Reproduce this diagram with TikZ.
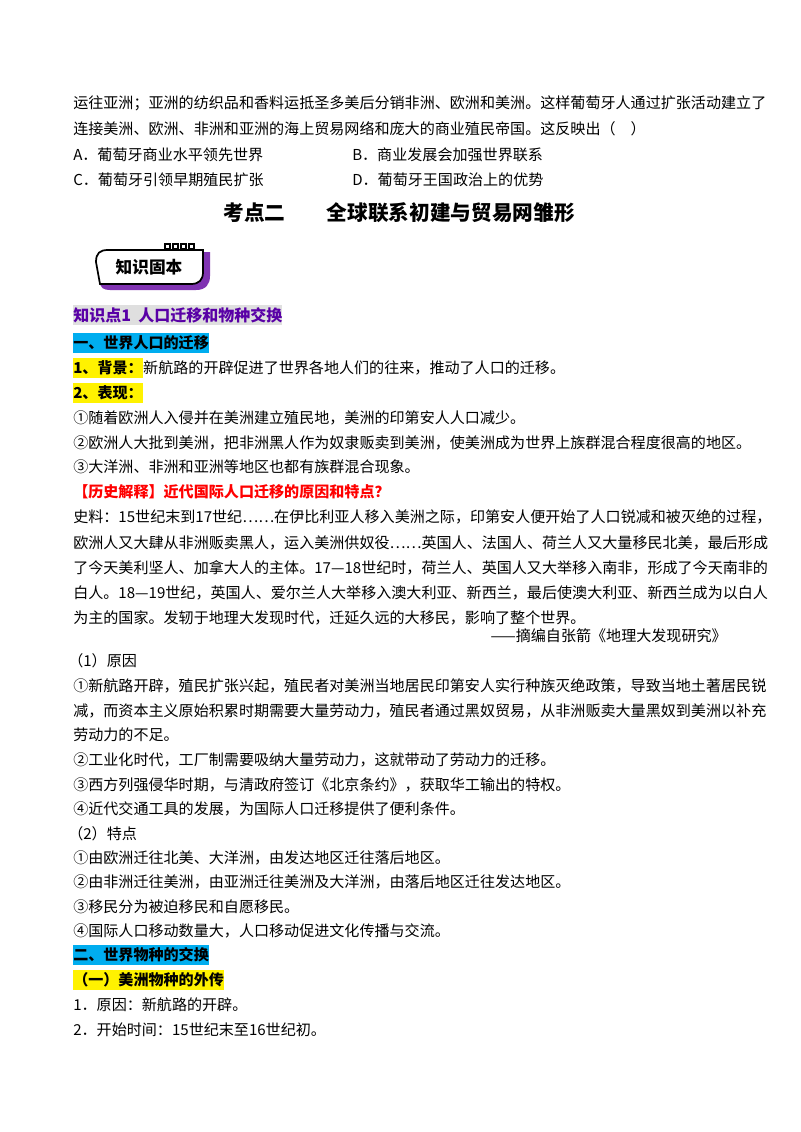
\documentclass[tikz,border=0pt]{standalone}
\usepackage{fontspec}
\setmainfont{Noto Sans CJK SC}
\begin{document}
\begin{tikzpicture}[x=0.75pt,y=-0.75pt,
  t/.style={anchor=west,inner sep=0pt,font=\fontsize{11.3}{13}\selectfont},
  b/.style={t,font=\fontsize{11.3}{13}\selectfont\bfseries},
  hl/.style={b,fill=#1,inner ysep=2pt}]
\useasboundingbox (0,0) rectangle (800,1132);
\fill[white] (0,0) rectangle (800,1132);
\node[t] (l1) at (73,103) {运往亚洲；亚洲的纺织品和香料运抵圣多美后分销非洲、欧洲和美洲。这样葡萄牙人通过扩张活动建立了};
\node[t] (l2) at (73,129) {连接美洲、欧洲、非洲和亚洲的海上贸易网络和庞大的商业殖民帝国。这反映出（\quad ）};
\node[t] (oa) at (73,155) {A．葡萄牙商业水平领先世界};
\node[t] (ob) at (352,155) {B．商业发展会加强世界联系};
\node[t] (oc) at (73,180) {C．葡萄牙引领早期殖民扩张};
\node[t] (od) at (352,180) {D．葡萄牙王国政治上的优势};
\node[inner sep=0pt,font=\fontsize{15.5}{18}\selectfont\bfseries] (title) at (399,213) {考点二\hspace{2em}全球联系初建与贸易网雏形};
% badge
\fill[violet!75!blue!80] (100,258) -- (100,282) .. controls (100,288) and (104,290) .. (110,290) -- (196,290) .. controls (206,290) and (210,284) .. (210,276) -- (210,252) -- (203,252) -- (203,270) -- (100,270) -- cycle;
\draw[line width=1.3pt,fill=white] (96,262) .. controls (96,253) and (100,250) .. (108,250) -- (203,250) -- (203,272) .. controls (203,280) and (199,284) .. (191,284) -- (100,284) -- cycle;
\foreach \i in {0,1,2,3} \draw[line width=1pt,fill=white] (165+\i*8,244) rectangle +(5,5);
\node[inner sep=0pt,font=\fontsize{12.5}{14}\selectfont\bfseries] (badge) at (149,267) {知识固本};
\node[hl=gray!25,text=violet!70!blue,font=\fontsize{12}{14}\selectfont\bfseries] (k1) at (73,315) {知识点1\ \ 人口迁移和物种交换};
\node[hl=cyan] (h1) at (73,343) {一、世界人口的迁移};
\node[hl=yellow] (s1) at (73,368) {1、背景：};
\node[t] at (s1.east) {新航路的开辟促进了世界各地人们的往来，推动了人口的迁移。};
\node[hl=yellow] (s2) at (73,393) {2、表现：};
\node[t] at (73,418) {①随着欧洲人入侵并在美洲建立殖民地，美洲的印第安人人口减少。};
\node[t] at (73,443) {②欧洲人大批到美洲，把非洲黑人作为奴隶贩卖到美洲，使美洲成为世界上族群混合程度很高的地区。};
\node[t] at (73,467) {③大洋洲、非洲和亚洲等地区也都有族群混合现象。};
\node[b,text=red] at (73,492) {【历史解释】近代国际人口迁移的原因和特点？};
\node[t] at (73,517) {史料：15世纪末到17世纪……在伊比利亚人移入美洲之际，印第安人便开始了人口锐减和被灭绝的过程，};
\node[t] at (73,543) {欧洲人又大肆从非洲贩卖黑人，运入美洲供奴役……英国人、法国人、荷兰人又大量移民北美，最后形成};
\node[t] at (73,568) {了今天美利坚人、加拿大人的主体。17—18世纪时，荷兰人、英国人又大举移入南非，形成了今天南非的};
\node[t] at (73,593) {白人。18—19世纪，英国人、爱尔兰人大举移入澳大利亚、新西兰，最后使澳大利亚、新西兰成为以白人};
\node[t] at (73,618) {为主的国家。发轫于地理大发现时代，迁延久远的大移民，影响了整个世界。};
\node[t,anchor=east] at (727,636) {——摘编自张箭《地理大发现研究》};
\node[t] at (68,661) {（1）原因};
\node[t] at (73,686) {①新航路开辟，殖民扩张兴起，殖民者对美洲当地居民印第安人实行种族灭绝政策，导致当地土著居民锐};
\node[t] at (73,711) {减，而资本主义原始积累时期需要大量劳动力，殖民者通过黑奴贸易，从非洲贩卖大量黑奴到美洲以补充};
\node[t] at (73,735) {劳动力的不足。};
\node[t] at (73,760) {②工业化时代，工厂制需要吸纳大量劳动力，这就带动了劳动力的迁移。};
\node[t] at (73,785) {③西方列强侵华时期，与清政府签订《北京条约》，获取华工输出的特权。};
\node[t] at (73,809) {④近代交通工具的发展，为国际人口迁移提供了便利条件。};
\node[t] at (68,834) {（2）特点};
\node[t] at (73,858) {①由欧洲迁往北美、大洋洲，由发达地区迁往落后地区。};
\node[t] at (73,882) {②由非洲迁往美洲，由亚洲迁往美洲及大洋洲，由落后地区迁往发达地区。};
\node[t] at (73,907) {③移民分为被迫移民和自愿移民。};
\node[t] at (73,931) {④国际人口移动数量大，人口移动促进文化传播与交流。};
\node[hl=cyan] (h2) at (73,955) {二、世界物种的交换};
\node[hl=yellow] (h3) at (73,980) {（一）美洲物种的外传};
\node[t] at (73,1005) {1．原因：新航路的开辟。};
\node[t] at (73,1030) {2．开始时间：15世纪末至16世纪初。};
\end{tikzpicture}
\end{document}
